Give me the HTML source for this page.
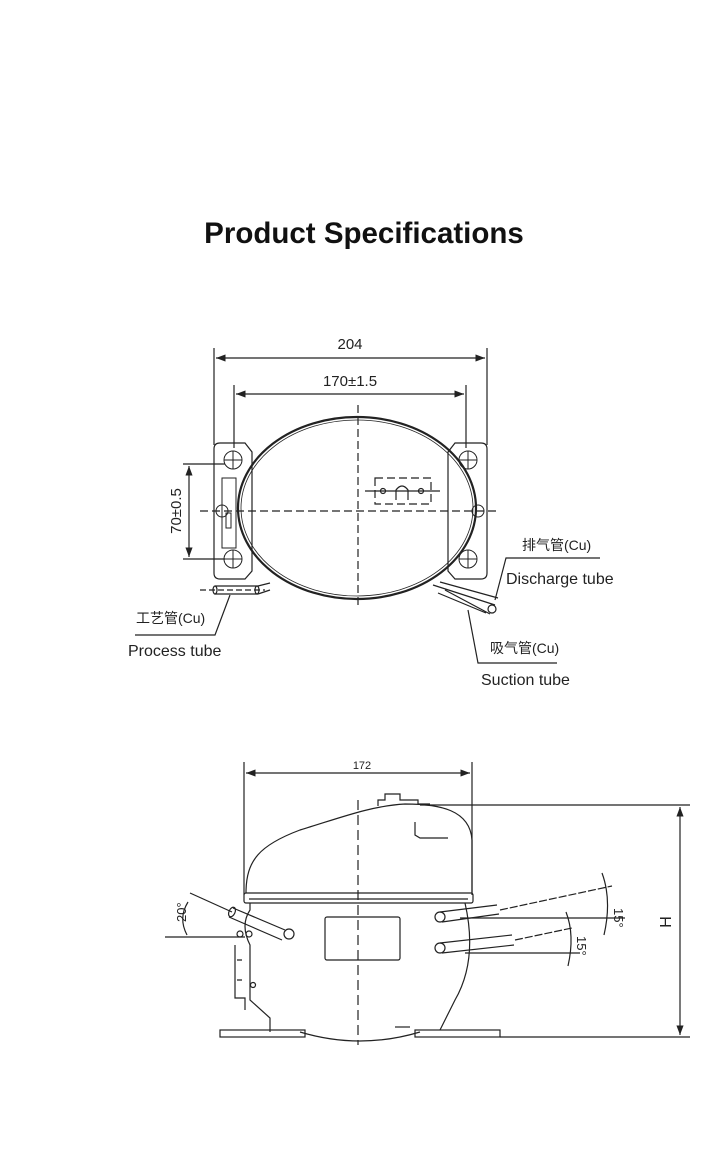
<!DOCTYPE html>
<html><head><meta charset="utf-8"><style>
html,body{margin:0;padding:0;background:#fff;}
body{width:728px;height:1150px;overflow:hidden;position:relative;}
h1{position:absolute;top:217px;left:0;width:728px;text-align:center;margin:0;font:bold 29.5px "Liberation Sans",sans-serif;color:#111;}
svg{position:absolute;left:0;top:0;}
text{font-family:"Liberation Sans","Noto Sans CJK SC",sans-serif;fill:#222;}
</style></head><body>
<h1>Product Specifications</h1>
<svg width="728" height="1150" viewBox="0 0 728 1150" fill="none" stroke="#222" stroke-width="1.2">
<defs><marker id="a" markerWidth="8" markerHeight="6" refX="8" refY="3" orient="auto-start-reverse"><path d="M0,0L8,3L0,6z" fill="#222" stroke="none"/></marker></defs>
<line x1="214" y1="348" x2="214" y2="445"/><line x1="487" y1="348" x2="487" y2="445"/>
<line x1="216" y1="358" x2="485" y2="358" marker-start="url(#a)" marker-end="url(#a)"/>
<text x="350" y="349" font-size="15" text-anchor="middle" stroke="none">204</text>
<line x1="234" y1="385" x2="234" y2="448"/><line x1="466" y1="385" x2="466" y2="448"/>
<line x1="236" y1="394" x2="464" y2="394" marker-start="url(#a)" marker-end="url(#a)"/>
<text x="350" y="386" font-size="15" text-anchor="middle" stroke="none">170±1.5</text>
<path d="M220,443H245L252,452V571L245,579H220Q214,579 214,573V449Q214,443 220,443Z"/>
<path d="M455,443H481Q487,443 487,449V573Q487,579 481,579H455L448,571V452Z"/>
<g stroke-width="1">
<circle cx="233" cy="460" r="9"/><circle cx="233" cy="559" r="9"/><circle cx="222" cy="511" r="6"/>
<circle cx="468" cy="460" r="9"/><circle cx="468" cy="559" r="9"/><circle cx="478" cy="511" r="6"/>
<line x1="224" y1="460" x2="242" y2="460"/><line x1="233" y1="451" x2="233" y2="469"/>
<line x1="224" y1="559" x2="242" y2="559"/><line x1="233" y1="550" x2="233" y2="568"/>
<line x1="459" y1="460" x2="477" y2="460"/><line x1="468" y1="451" x2="468" y2="469"/>
<line x1="459" y1="559" x2="477" y2="559"/><line x1="468" y1="550" x2="468" y2="568"/>
<rect x="226" y="513" width="5" height="15"/>
<rect x="222" y="478" width="14" height="70"/>
</g>
<ellipse cx="357" cy="508" rx="119" ry="91" stroke-width="2.2"/>
<ellipse cx="357" cy="508" rx="116" ry="88" stroke-width="0.8"/>
<g stroke-dasharray="8,4">
<line x1="200" y1="511" x2="497" y2="511"/><line x1="358" y1="405" x2="358" y2="608"/>
<rect x="375" y="478" width="56" height="26"/>
</g>
<line x1="365" y1="491" x2="440" y2="491"/>
<circle cx="383" cy="491" r="2.5"/><circle cx="421" cy="491" r="2.5"/>
<path d="M396,500V490Q402,482 408,490V500" />
<line x1="183" y1="464" x2="225" y2="464"/><line x1="183" y1="559" x2="225" y2="559"/>
<line x1="189" y1="466" x2="189" y2="557" marker-start="url(#a)" marker-end="url(#a)"/>
<text transform="translate(181,511) rotate(-90)" font-size="15" text-anchor="middle" stroke="none">70±0.5</text>
<path d="M215,586H258M215,594H258" /><ellipse cx="215" cy="590" rx="2" ry="4"/><ellipse cx="257" cy="590" rx="2" ry="4"/>
<path d="M258,586L270,583M258,594L270,590"/>
<line x1="200" y1="590" x2="265" y2="590" stroke-dasharray="6,3"/>
<path d="M433,585L495,605M440,582L498,598M445,590L490,614M438,593L486,613"/>
<circle cx="492" cy="609" r="4"/>
<path d="M230,595L215,635H135"/>
<text x="136" y="623" font-size="14" stroke="none">工艺管(Cu)</text>
<text x="128" y="656" font-size="16" stroke="none">Process tube</text>
<path d="M495,600L506,558H600"/>
<text x="522" y="550" font-size="14" stroke="none">排气管(Cu)</text>
<text x="506" y="584" font-size="16" stroke="none">Discharge tube</text>
<path d="M468,610L478,663H557"/>
<text x="490" y="653" font-size="14" stroke="none">吸气管(Cu)</text>
<text x="481" y="685" font-size="16" stroke="none">Suction tube</text>
<line x1="244" y1="762" x2="244" y2="895"/><line x1="472" y1="762" x2="472" y2="895"/>
<line x1="246" y1="773" x2="470" y2="773" marker-start="url(#a)" marker-end="url(#a)"/>
<text x="362" y="769" font-size="11" text-anchor="middle" stroke="none">172</text>
<path d="M246,893C246,860 260,845 300,830C340,818 370,806 405,804C440,804 470,810 472,840V893"/>
<path d="M378,806V800H385V794H400V800H418V804H430"/>
<path d="M415,822V835L420,838H448"/>
<rect x="244" y="893" width="229" height="10" rx="2"/>
<line x1="249" y1="899" x2="468" y2="899"/>
<path d="M250,903V910Q240,925 250,945V1000L270,1018L270,1032M465,903Q478,960 455,1000L440,1030"/>
<path d="M300,1032Q360,1050 420,1032"/>
<rect x="220" y="1030" width="85" height="7"/><rect x="415" y="1030" width="85" height="7"/>
<rect x="325" y="917" width="75" height="43" rx="2"/>
<path d="M235,945V998H245V1010M237,960H242M237,980H242"/><circle cx="253" cy="985" r="2.5"/>
<line x1="395" y1="1027" x2="410" y2="1027"/>
<line x1="358" y1="800" x2="358" y2="1045" stroke-dasharray="10,5"/>
<line x1="420" y1="805" x2="690" y2="805"/><line x1="500" y1="1037" x2="690" y2="1037"/>
<line x1="680" y1="807" x2="680" y2="1035" marker-start="url(#a)" marker-end="url(#a)"/>
<text transform="translate(671,922) rotate(-90)" font-size="16" text-anchor="middle" stroke="none">H</text>
<path d="M440,912L497,905M442,922L499,914"/><circle cx="440" cy="917" r="5"/>
<path d="M440,943L512,935M442,953L514,945"/><circle cx="440" cy="948" r="5"/>
<line x1="500" y1="910" x2="612" y2="886" stroke-dasharray="8,2"/>
<line x1="515" y1="940" x2="572" y2="928" stroke-dasharray="8,2"/>
<line x1="460" y1="918" x2="625" y2="918"/><line x1="465" y1="953" x2="580" y2="953"/>
<path d="M602,873Q612,900 604,935"/><path d="M566,912Q575,935 568,966"/>
<text transform="translate(614,908) rotate(90)" font-size="13" stroke="none">15°</text>
<text transform="translate(577,936) rotate(90)" font-size="13" stroke="none">15°</text>
<line x1="165" y1="937" x2="245" y2="937"/>
<line x1="190" y1="893" x2="232" y2="912"/>
<path d="M233,908L285,930M229,917L282,940"/><circle cx="289" cy="934" r="5"/>
<ellipse cx="232" cy="912" rx="3" ry="5" transform="rotate(25 232 912)"/>
<path d="M188,902Q178,918 187,935"/>
<text transform="translate(186,922) rotate(-90)" font-size="13" stroke="none">20°</text>
<circle cx="240" cy="934" r="3"/><circle cx="249" cy="934" r="3"/>
</svg>
</body></html>
